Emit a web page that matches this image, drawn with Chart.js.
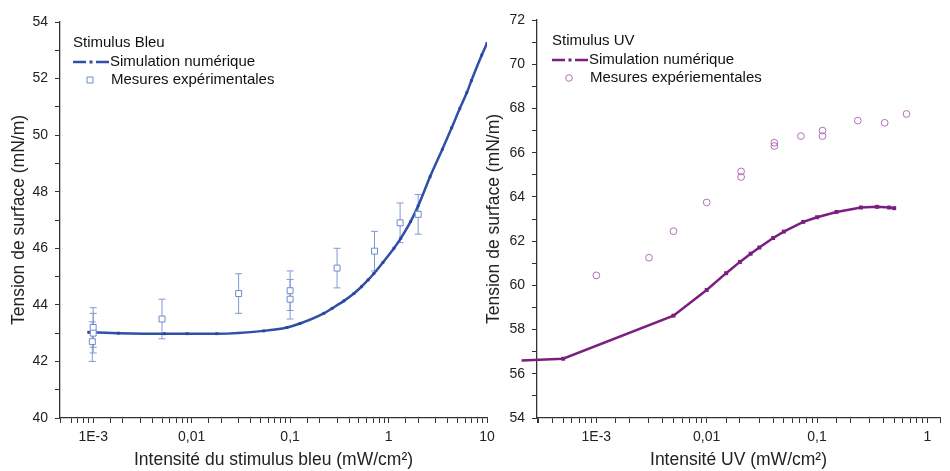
<!DOCTYPE html>
<html>
<head>
<meta charset="utf-8">
<script src="https://cdn.jsdelivr.net/npm/chart.js@4/dist/chart.umd.min.js"></script>
<style>
  html, body { margin: 0; padding: 0; background: #fff; }
  #wrap { position: relative; width: 950px; height: 471px; }
  #c1 { position: absolute; left: 0; top: 0; }
  #c2 { position: absolute; left: 475px; top: 0; }
</style>
</head>
<body>
<div id="wrap">
  <canvas id="c1" width="505" height="471"></canvas>
  <canvas id="c2" width="475" height="471"></canvas>
</div>
<script>
// --- data: stimulus bleu ---
const bleuSimX = [0.0009, 0.0018, 0.0053, 0.009, 0.018, 0.054, 0.093, 0.126, 0.22, 0.268, 0.352, 0.445, 0.53, 0.62, 0.71, 0.877, 1.135, 1.33, 1.68, 2.0, 2.64, 3.52, 4.38, 5.29, 6.23, 6.95, 8.85, 10];
const bleuSimY = [43.03, 43.0, 42.98, 42.98, 42.98, 43.08, 43.2, 43.34, 43.7, 43.88, 44.14, 44.4, 44.64, 44.88, 45.11, 45.5, 46.0, 46.35, 46.95, 47.5, 48.53, 49.5, 50.26, 50.94, 51.5, 51.93, 52.83, 53.24];
const bleuExpX = [0.001, 0.001, 0.00098, 0.005, 0.03, 0.1, 0.1, 0.3, 0.72, 1.31, 2.0];
const bleuExpY = [43.2, 43.0, 42.7, 43.5, 44.4, 44.5, 44.2, 45.3, 45.9, 46.9, 47.2];
const bleuExpErr = [0.7, 0.7, 0.7, 0.7, 0.7, 0.7, 0.7, 0.7, 0.7, 0.7, 0.7];

// --- data: stimulus UV ---
const uvSimX = [0.00021, 0.0005, 0.005, 0.01, 0.015, 0.02, 0.025, 0.03, 0.04, 0.05, 0.075, 0.1, 0.15, 0.25, 0.35, 0.45, 0.5];
const uvSimY = [56.6, 56.68, 58.63, 59.79, 60.55, 61.06, 61.43, 61.71, 62.14, 62.43, 62.87, 63.08, 63.32, 63.52, 63.55, 63.52, 63.49];
const uvExpX = [0.001, 0.003, 0.005, 0.01, 0.0205, 0.0205, 0.041, 0.041, 0.0714, 0.112, 0.112, 0.234, 0.41, 0.646];
const uvExpY = [60.45, 61.25, 62.45, 63.75, 65.15, 64.9, 66.45, 66.3, 66.75, 67.0, 66.75, 67.45, 67.35, 67.75];

// tick labels
const xTickValues = [0.001, 0.01, 0.1, 1, 10];
const xTickLabels = ['1E-3', '0,01', '0,1', '1', '10'];

const FONT = "'Liberation Sans', Arial, sans-serif";
const AXIS = '#333';

function pts(xs, ys) {
  return xs.map((x, i) => ({ x: x, y: ys[i] }));
}

function logLabel(v) {
  for (let i = 0; i < xTickValues.length; i++) {
    if (Math.abs(Math.log10(v) - Math.log10(xTickValues[i])) < 1e-6) return xTickLabels[i];
  }
  return '';
}

// vertical error bars from the data arrays
const errorBars = {
  id: 'errorBars',
  beforeDatasetsDraw(chart, args, opts) {
    if (!opts.err) return;
    const ctx = chart.ctx, xs = chart.scales.x, ys = chart.scales.y;
    const meta = chart.getDatasetMeta(opts.index);
    ctx.save();
    ctx.strokeStyle = opts.color;
    ctx.lineWidth = 1;
    meta.data.forEach((p, i) => {
      const d = chart.data.datasets[opts.index].data[i];
      const px = xs.getPixelForValue(d.x);
      const top = ys.getPixelForValue(d.y + opts.err[i]);
      const bot = ys.getPixelForValue(d.y - opts.err[i]);
      ctx.beginPath();
      ctx.moveTo(px, top); ctx.lineTo(px, bot);
      ctx.moveTo(px - 3.5, top); ctx.lineTo(px + 3.5, top);
      ctx.moveTo(px - 3.5, bot); ctx.lineTo(px + 3.5, bot);
      ctx.stroke();
    });
    ctx.restore();
  }
};

// legend box inside the plot
const innerLegend = {
  id: 'innerLegend',
  afterDraw(chart, args, o) {
    const ctx = chart.ctx, a = chart.chartArea;
    const x0 = a.left + o.dx, y0 = a.top;
    ctx.save();
    ctx.font = '15px ' + FONT;
    ctx.fillStyle = '#111';
    ctx.textBaseline = 'middle';
    ctx.fillText(o.title, x0, y0 + 21);
    // line sample
    ctx.strokeStyle = o.lineColor;
    ctx.lineWidth = 2.5;
    ctx.beginPath();
    ctx.moveTo(x0, y0 + 40); ctx.lineTo(x0 + 13, y0 + 40);
    ctx.moveTo(x0 + 23, y0 + 40); ctx.lineTo(x0 + 36, y0 + 40);
    ctx.stroke();
    ctx.fillStyle = o.lineColor;
    ctx.fillRect(x0 + 16.5, y0 + 38.5, 3, 3);
    ctx.fillStyle = '#111';
    ctx.fillText(o.simLabel, x0 + 37, y0 + 40);
    // marker sample
    ctx.strokeStyle = o.markColor;
    ctx.lineWidth = 1;
    ctx.beginPath();
    if (o.circle) ctx.arc(x0 + 17, y0 + 58, 3.3, 0, Math.PI * 2);
    else ctx.rect(x0 + 14, y0 + 55, 6, 6);
    ctx.stroke();
    ctx.fillText(o.expLabel, x0 + 38, y0 + 58);
    ctx.restore();
  }
};

function axes(cfg) {
  return {
    x: {
      type: 'logarithmic',
      min: cfg.xmin, max: cfg.xmax,
      afterFit(s) { s.height = 53; },
      border: { display: true, color: AXIS, width: 1.3 },
      grid: { drawOnChartArea: false, drawTicks: true, tickLength: 5, color: AXIS },
      ticks: {
        autoSkip: false, maxRotation: 0, padding: 6,
        font: { family: FONT, size: 14 }, color: '#222',
        callback: (v) => logLabel(v)
      },
      title: {
        display: true, text: cfg.xtitle, color: '#222',
        font: { family: FONT, size: 17.5 }, padding: { top: 0, bottom: 0 }
      }
    },
    y: {
      min: cfg.ymin, max: cfg.ymax,
      afterFit(s) { s.width = cfg.yw; },
      border: { display: true, color: AXIS, width: 1.3 },
      grid: { drawOnChartArea: false, drawTicks: true, tickLength: 5, color: AXIS },
      ticks: {
        stepSize: 1, padding: 7,
        font: { family: FONT, size: 14 }, color: '#222',
        callback: (v) => (v % 2 === 0 ? String(v) : '')
      },
      title: {
        display: true, text: 'Tension de surface (mN/m)', color: '#222',
        font: { family: FONT, size: 17.5 }, padding: { top: 9, bottom: 0 }
      }
    }
  };
}

new Chart(document.getElementById('c1'), {
  type: 'scatter',
  data: {
    datasets: [
      {
        data: pts(bleuExpX, bleuExpY), showLine: false,
        pointStyle: 'rect', pointRadius: 4.2, borderWidth: 1,
        borderColor: '#6f8acb', backgroundColor: '#fff'
      },
      {
        data: pts(bleuSimX, bleuSimY), showLine: true,
        borderColor: '#2f4fa8', borderWidth: 2.5,
        pointStyle: 'rect', pointRadius: 2, pointBorderWidth: 0,
        pointBackgroundColor: '#2a469c', cubicInterpolationMode: 'monotone'
      }
    ]
  },
  options: {
    responsive: false, animation: false,
    layout: { padding: { left: 0, top: 22, right: 18, bottom: 0 } },
    scales: axes({ xmin: 4.6e-4, xmax: 10, ymin: 40, ymax: 54, yw: 60,
                   xtitle: 'Intensité du stimulus bleu (mW/cm²)' }),
    plugins: {
      legend: { display: false }, tooltip: { enabled: false },
      errorBars: { index: 0, err: bleuExpErr, color: '#8299d2' },
      innerLegend: { dx: 13, title: 'Stimulus Bleu', simLabel: 'Simulation numérique',
                     expLabel: 'Mesures expérimentales', lineColor: '#2f4fa8',
                     markColor: '#6f8acb', circle: false }
    }
  },
  plugins: [errorBars, innerLegend]
});

new Chart(document.getElementById('c2'), {
  type: 'scatter',
  data: {
    datasets: [
      {
        data: pts(uvExpX, uvExpY), showLine: false,
        pointStyle: 'circle', pointRadius: 3.4, borderWidth: 1,
        borderColor: '#b26db8', backgroundColor: 'rgba(0,0,0,0)'
      },
      {
        data: pts(uvSimX, uvSimY), showLine: true, clip: false,
        borderColor: '#7a1f80', borderWidth: 2.5,
        pointStyle: 'rect', pointRadius: (c) => (c.dataIndex === 0 ? 0 : 2.8),
        pointBorderWidth: 0, pointBackgroundColor: '#7a1f80'
      }
    ]
  },
  options: {
    responsive: false, animation: false,
    layout: { padding: { left: 0, top: 20, right: 10, bottom: 0 } },
    scales: axes({ xmin: 2.9e-4, xmax: 1.3, ymin: 54, ymax: 72, yw: 62,
                   xtitle: 'Intensité UV (mW/cm²)' }),
    plugins: {
      legend: { display: false }, tooltip: { enabled: false },
      innerLegend: { dx: 15, title: 'Stimulus UV', simLabel: 'Simulation numérique',
                     expLabel: 'Mesures expériementales', lineColor: '#7a1f80',
                     markColor: '#b26db8', circle: true }
    }
  },
  plugins: [innerLegend]
});
</script>
</body>
</html>
